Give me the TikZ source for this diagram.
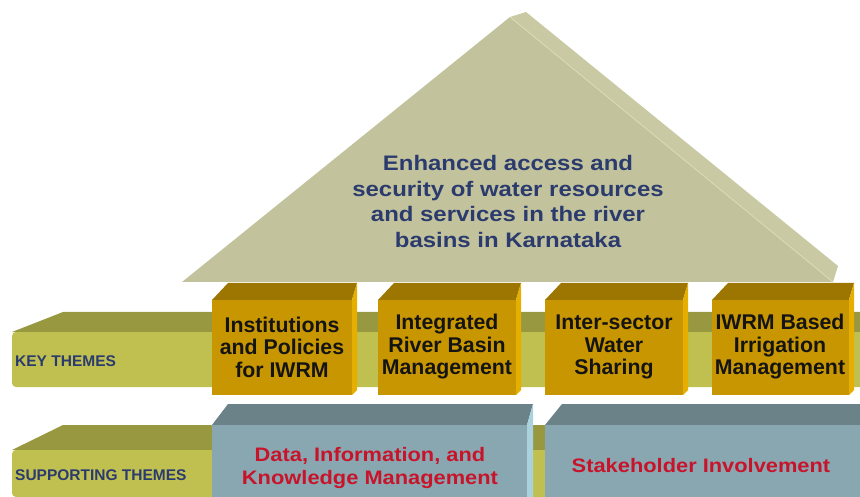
\documentclass[tikz,border=0pt]{standalone}
\usepackage{fontspec}
\setmainfont{Liberation Sans}
\newfontfamily\roofsans[FakeStretch=1.14]{Liberation Sans}
\newfontfamily\supportsans[FakeStretch=1.12]{Liberation Sans}
\definecolor{barFront}{HTML}{C0C050}
\definecolor{barTop}{HTML}{989840}
\definecolor{ochreFront}{HTML}{C89600}
\definecolor{ochreTop}{HTML}{9C7600}
\definecolor{ochreSide}{HTML}{E6AF00}
\definecolor{slateFront}{HTML}{89A7B1}
\definecolor{slateTop}{HTML}{6A8288}
\definecolor{slateSide}{HTML}{AAD2DE}
\definecolor{roofFront}{HTML}{C2C39C}
\definecolor{roofSide}{HTML}{C9CAA4}
\definecolor{roofSeam}{HTML}{DADBBB}
\definecolor{navyText}{HTML}{2B3B6E}
\definecolor{redText}{HTML}{C8142A}
\tikzset{
  themetext/.style={inner sep=0pt, align=center, text=black!92,
    font=\bfseries\fontsize{21.3}{22.5}\selectfont},
  supporttext/.style={inner sep=0pt, align=center, text=redText,
    font=\supportsans\bfseries\fontsize{19.5}{22.3}\selectfont},
  rooftext/.style={inner sep=0pt, align=center, text=navyText,
    font=\roofsans\bfseries\fontsize{21}{25.5}\selectfont},
  rowlabel/.style={inner sep=0pt, anchor=base west, text=navyText,
    font=\bfseries\fontsize{15.5}{18}\selectfont},
}
\begin{document}
\begin{tikzpicture}[x=1pt,y=-1pt]
\path[use as bounding box] (0,0) rectangle (860,497);

% key themes slab
\fill[barTop] (12,332) -- (63,312) -- (860,312) -- (860,332) -- cycle;
\fill[barFront, rounded corners=4] (860,332) -- (12,332) -- (12,387) -- (860,387);

% supporting themes slab
\fill[barTop] (12,450) -- (63,425) -- (860,425) -- (860,450) -- cycle;
\fill[barFront, rounded corners=4] (860,450) -- (12,450) -- (12,497) -- (860,497);

% roof
\fill[roofFront] (182,282) -- (510,17) -- (833,282) -- cycle;
\fill[roofSide] (510,17) -- (526,12) -- (838,266) -- (833,282) -- cycle;
\draw[roofSeam, line width=0.8] (510,17) -- (833,282);

% key theme pillars
\foreach \a/\b in {212/352, 378/516, 545/683, 712/849} {
  \fill[ochreTop] (\a,300) -- (\a+16,283) -- (\b+5,283) -- (\b,300) -- cycle;
  \fill[ochreSide] (\b,300) -- (\b+5,283) -- (\b+5,390) -- (\b,395) -- cycle;
  \fill[ochreFront] (\a,300) rectangle (\b,395);
}

% supporting theme blocks
\fill[slateTop] (212,425) -- (228,404) -- (533,404) -- (527,425) -- cycle;
\fill[slateSide] (527,425) -- (533,404) -- (533,497) -- (527,497) -- cycle;
\fill[slateFront] (212,425) rectangle (527,497);
\fill[slateTop] (545,425) -- (562,404) -- (860,404) -- (860,425) -- cycle;
\fill[slateFront] (545,425) rectangle (860,497);

% texts
\node[rooftext] (goal) at (508,201.5)
  {Enhanced access and\\security of water resources\\and services in the river\\basins in Karnataka};

\node[themetext] (kt1) at (282,347) {Institutions\\and Policies\\for IWRM};
\node[themetext] (kt2) at (447,347) {Integrated\\River Basin\\Management};
\node[themetext] (kt3) at (614,347) {Inter-sector\\Water\\Sharing};
\node[themetext] (kt4) at (780,347) {IWRM Based\\Irrigation\\Management};

\node[supporttext] (st1) at (370,468) {Data, Information, and\\Knowledge Management};
\node[supporttext] (st2) at (701,466) {Stakeholder Involvement};

\node[rowlabel] (keylab) at (15,366) {KEY THEMES};
\node[rowlabel] (suplab) at (15,480) {SUPPORTING THEMES};
\end{tikzpicture}
\end{document}
